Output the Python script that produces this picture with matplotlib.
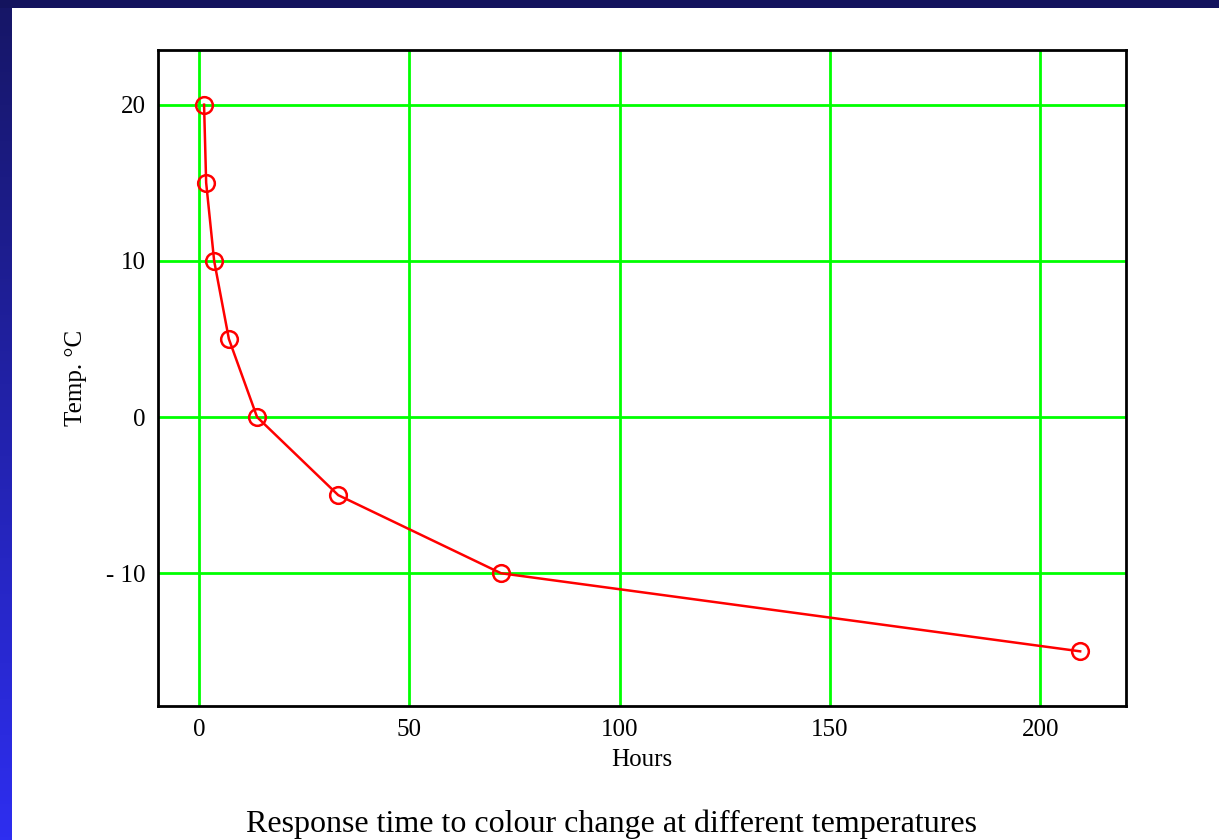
import numpy as np
import matplotlib.pyplot as plt
from matplotlib.ticker import FuncFormatter

# time (hours) to colour change at each temperature
hours = [1.2, 1.7, 3.6, 7.1, 13.8, 33.1, 71.8, 209.5]
temps = [20, 15, 10, 5, 0, -5, -10, -15]

x_ticks = [0, 50, 100, 150, 200]
y_ticks = [-10, 0, 10, 20]

plt.rcParams['font.family'] = ['Liberation Serif', 'DejaVu Serif']

fig = plt.figure(figsize=(12.19, 8.4), dpi=100)
fig.patch.set_facecolor('white')

# slide border: blue gradient down the left edge, dark bar on top
band = fig.add_axes([0, 0, 12 / 1219, 1])
grad = np.linspace(0, 1, 256).reshape(-1, 1)
top_col = np.array([0x16, 0x16, 0x66]) / 255
bot_col = np.array([0x2e, 0x2e, 0xf0]) / 255
img = top_col + grad * (bot_col - top_col)
band.imshow(img.reshape(256, 1, 3), aspect='auto', extent=[0, 1, 0, 1], origin='upper')
band.axis('off')

top_bar = fig.add_axes([0, 1 - 8 / 840, 1, 8 / 840])
top_bar.set_facecolor('#13135e')
top_bar.set_xticks([])
top_bar.set_yticks([])
for s in top_bar.spines.values():
    s.set_visible(False)

ax = fig.add_axes([158 / 1219, 1 - 706 / 840, (1126 - 158) / 1219, (706 - 50) / 840])
ax.plot(hours, temps, color='#ff0000', linewidth=1.8, marker='o', markersize=12,
        markerfacecolor='none', markeredgecolor='#ff0000', markeredgewidth=1.8, zorder=3)

ax.set_xlim(-9.75, 220.4)
ax.set_ylim(-18.5, 23.5)
ax.set_xticks(x_ticks)
ax.set_yticks(y_ticks)
ax.yaxis.set_major_formatter(FuncFormatter(lambda v, p: ('- %d' % -v) if v < 0 else '%d' % v))
ax.grid(True, color='#00ff00', linewidth=2)
ax.set_axisbelow(True)
ax.tick_params(length=0, labelsize=18, pad=9)
for s in ax.spines.values():
    s.set_linewidth(2)
    s.set_color('black')

ax.set_xlabel("Hours", fontsize=18, labelpad=6)
ax.set_ylabel("Temp. °C", fontsize=18, labelpad=14)

fig.text(611 / 1219, 1 - 824 / 840, "Response time to colour change at different temperatures",
         fontsize=23, ha='center', va='center')

plt.savefig('out.png', dpi=100)
